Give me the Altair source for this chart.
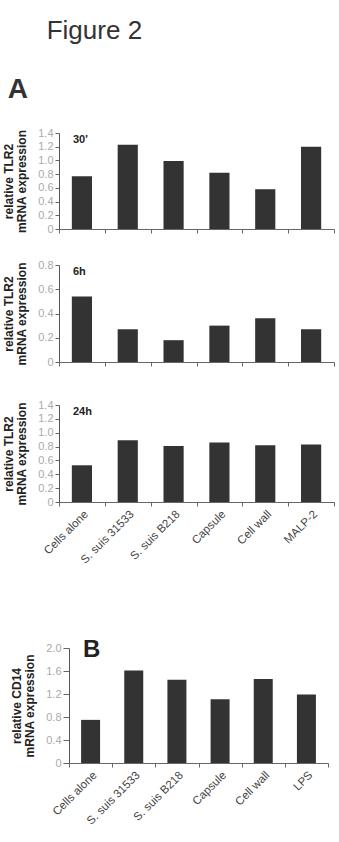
import altair as alt
import pandas as pd

FONT = "Liberation Sans"

categories_a = ["Cells alone", "S. suis 31533", "S. suis B218", "Capsule", "Cell wall", "MALP-2"]
categories_b = ["Cells alone", "S. suis 31533", "S. suis B218", "Capsule", "Cell wall", "LPS"]

tlr2_30min = [0.77, 1.23, 0.99, 0.82, 0.58, 1.20]
tlr2_6h = [0.54, 0.27, 0.18, 0.30, 0.36, 0.27]
tlr2_24h = [0.53, 0.89, 0.81, 0.86, 0.82, 0.83]
cd14 = [0.75, 1.61, 1.45, 1.11, 1.46, 1.19]

ticks_14 = [0, 0.2, 0.4, 0.6, 0.8, 1.0, 1.2, 1.4]
ticks_08 = [0, 0.2, 0.4, 0.6, 0.8]
ticks_20 = [0, 0.4, 0.8, 1.2, 1.6, 2.0]

panel_labels = ["30'", "6h", "24h", "B"]
title_tlr2 = ["relative TLR2", "mRNA expression"]
title_cd14 = ["relative CD14", "mRNA expression"]

LABEL_EXPR = "datum.value == 0 ? '0' : format(datum.value, '.1f')"


def panel(values, cats, label, ticks, height, width, ytitle,
          show_labels=False, xrange=None, yoffset=0, ytick=4,
          label_size=11, label_dx=14, label_y=7, xtitle=None, xtitle_pad=0,
          xtitle_size=10, chart_title=None):
    df = pd.DataFrame({"category": cats, "value": values})
    scale_kw = dict(paddingInner=0, paddingOuter=0)
    if xrange is not None:
        scale_kw["range"] = xrange
    axis_kw = dict(
        labels=show_labels, labelAngle=-45, labelAlign="right", labelBaseline="top",
        labelFont=FONT, labelFontSize=11.5, labelColor="#444", labelPadding=2,
        ticks=True, tickSize=4, tickBand="extent", tickColor="#666",
        domainColor="#666", grid=False, labelLimit=200,
    )
    if xtitle is not None:
        axis_kw.update(title=xtitle, titlePadding=xtitle_pad, titleFontSize=xtitle_size)
    else:
        axis_kw.update(title=None)
    x = alt.X("category:N", sort=cats, scale=alt.Scale(**scale_kw), axis=alt.Axis(**axis_kw))
    y = alt.Y(
        "value:Q",
        scale=alt.Scale(domain=[ticks[0], ticks[-1]], nice=False, zero=True),
        axis=alt.Axis(
            values=ticks, labelExpr=LABEL_EXPR, title=ytitle,
            titleFont=FONT, titleFontSize=12, titleFontWeight="bold", titleColor="#222",
            titleLineHeight=13, titlePadding=9,
            labelFont=FONT, labelFontSize=11, labelColor="#aaa", labelPadding=2,
            tickSize=ytick, tickColor="#666", domainColor="#555", grid=False,
            offset=yoffset,
        ),
    )
    bars = alt.Chart(df).mark_bar(
        color="#333333", width=alt.RelativeBandSize(0.44)
    ).encode(x=x, y=y)
    txt = alt.Chart(pd.DataFrame({"t": [label]})).mark_text(
        align="left", baseline="alphabetic", font=FONT, fontWeight="bold",
        fontSize=label_size, color="#222",
    ).encode(text="t:N", x=alt.value(label_dx), y=alt.value(label_y))
    props = dict(width=width, height=height)
    if chart_title is not None:
        props["title"] = chart_title
    return alt.layer(bars, txt).properties(**props)


p1 = panel(tlr2_30min, categories_a, panel_labels[0], ticks_14, 96, 275, title_tlr2,
           label_y=10,
           chart_title=alt.TitleParams("A", anchor="start", font=FONT, fontSize=28,
                                       fontWeight="bold", color="#333", dx=5,
                                       baseline="alphabetic", offset=1))
p2 = panel(tlr2_6h, categories_a, panel_labels[1], ticks_08, 97, 275, title_tlr2,
           label_y=10, xtitle=" ", xtitle_pad=3, xtitle_size=4)
p3 = panel(tlr2_24h, categories_a, panel_labels[2], ticks_14, 97, 275, title_tlr2,
           show_labels=True, label_y=10, xtitle=" ", xtitle_pad=37)
pB = panel(cd14, categories_b, panel_labels[3], ticks_20, 115, 269, title_cd14,
           show_labels=True, xrange=[10, 269], yoffset=-10, ytick=6, label_size=24,
           label_dx=24, label_y=9)

chart = alt.vconcat(p1, p2, p3, pB, spacing=25).properties(
    title=alt.TitleParams("Figure 2", anchor="start", font=FONT, fontSize=26,
                          fontWeight="normal", color="#333", dx=44,
                          baseline="alphabetic", offset=11),
    padding={"left": 2, "top": 18, "right": 0, "bottom": 0},
).configure_view(stroke=None)

chart.save("out.html", embed_options={"renderer": "svg", "actions": False})
